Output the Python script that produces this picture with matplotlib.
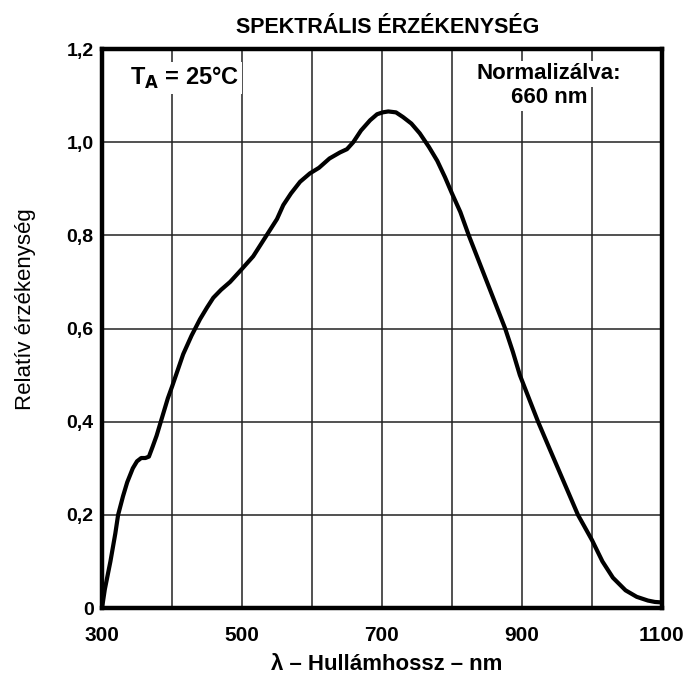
import matplotlib
matplotlib.use("Agg")
import matplotlib.pyplot as plt

plt.rcParams['font.family'] = ['Liberation Sans', 'DejaVu Sans']

wavelength = [300, 304, 312, 319, 323, 330, 336, 344, 350, 356, 362, 367, 372, 378,
              386, 394, 400, 408, 416, 428, 440, 450, 459, 470, 483, 500, 516, 533,
              550, 559, 570, 583, 597, 610, 625, 640, 650, 659, 670, 683, 693, 701,
              709, 720, 730, 742, 754, 767, 779, 790, 800, 812, 824, 837, 850, 863,
              876, 887, 897, 910, 923, 940, 960, 980, 1000, 1015, 1030, 1048, 1064,
              1080, 1090, 1100]
response = [0.0, 0.04, 0.10, 0.16, 0.20, 0.24, 0.27, 0.30, 0.315, 0.322, 0.322, 0.325,
            0.345, 0.37, 0.41, 0.45, 0.475, 0.51, 0.545, 0.585, 0.62, 0.645, 0.666,
            0.683, 0.70, 0.728, 0.755, 0.795, 0.835, 0.865, 0.89, 0.915, 0.933, 0.945,
            0.965, 0.978, 0.985, 1.0, 1.025, 1.047, 1.06, 1.064, 1.066, 1.064, 1.054,
            1.04, 1.019, 0.99, 0.96, 0.925, 0.89, 0.85, 0.80, 0.75, 0.70, 0.65, 0.60,
            0.55, 0.50, 0.45, 0.40, 0.34, 0.27, 0.20, 0.146, 0.10, 0.065, 0.038, 0.024,
            0.016, 0.013, 0.012]

x_ticks = [300, 400, 500, 600, 700, 800, 900, 1000, 1100]
x_labels = ['300', '', '500', '', '700', '', '900', '', '1100']
y_ticks = [0, 0.2, 0.4, 0.6, 0.8, 1.0, 1.2]
y_labels = ['0', '0,2', '0,4', '0,6', '0,8', '1,0', '1,2']

fig = plt.figure(figsize=(6.87, 6.77), dpi=100)
ax = fig.add_axes([0.1485, 0.1019, 0.815, 0.8257])

ax.plot(wavelength, response, color='black', lw=3.0, solid_joinstyle='round',
        solid_capstyle='round', zorder=3)

ax.set_xlim(300, 1100)
ax.set_ylim(0, 1.2)
ax.set_xticks(x_ticks)
ax.set_xticklabels(x_labels)
ax.set_yticks(y_ticks)
ax.set_yticklabels(y_labels)
ax.tick_params(length=0)
ax.tick_params(axis='x', labelsize=15, pad=13)
ax.tick_params(axis='y', labelsize=14, pad=6)
for lbl in ax.get_xticklabels() + ax.get_yticklabels():
    lbl.set_fontweight('bold')
ax.grid(True, color='#222222', lw=1.1)
for s in ax.spines.values():
    s.set_linewidth(3.2)
    s.set_zorder(4)

ax.set_xlabel('λ – Hullámhossz – nm', fontsize=16, fontweight='bold')
ax.xaxis.set_label_coords(0.508, -0.083)
ax.set_ylabel('Relatív érzékenység', fontsize=16)
ax.yaxis.set_label_coords(-0.118, 0.535)

fig.text(0.565, 0.951, 'SPEKTRÁLIS ÉRZÉKENYSÉG', ha='center', va='baseline',
         fontsize=15.5, fontweight='bold')

ax.text(0.05, 0.9356, r'T$_\mathbf{A}$ = 25°C', transform=ax.transAxes, ha='left',
        va='baseline', fontsize=17, fontweight='bold',
        bbox=dict(facecolor='white', edgecolor='none', pad=2), zorder=5)
ax.text(0.798, 0.946, 'Normalizálva:', transform=ax.transAxes, ha='center',
        va='baseline', fontsize=16, fontweight='bold',
        bbox=dict(facecolor='white', edgecolor='none', pad=2), zorder=5)
ax.text(0.798, 0.903, '660 nm', transform=ax.transAxes, ha='center',
        va='baseline', fontsize=16, fontweight='bold',
        bbox=dict(facecolor='white', edgecolor='none', pad=2), zorder=5)

fig.savefig('out.png', dpi=100)
